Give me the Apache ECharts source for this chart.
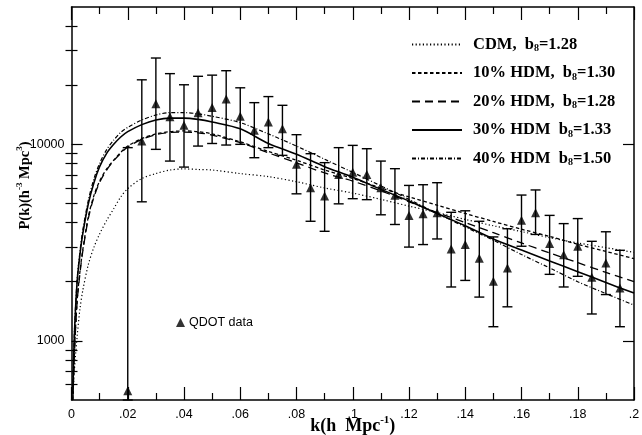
<!DOCTYPE html>
<html>
<head>
<meta charset="utf-8">
<script src="https://cdn.jsdelivr.net/npm/echarts@6.0.0/dist/echarts.min.js"></script>
<style>html,body{margin:0;padding:0;background:#fff;}#c{width:642px;height:435px;}</style>
</head>
<body>
<div id="c"></div>
<script>
// ---- data ----
const kGrid = [0.0005,0.001,0.002,0.003,0.004,0.006,0.008,0.01,0.0125,0.015,0.0175,0.02,0.025,0.03,0.035,0.04,0.045,0.05,0.06,0.07,0.08,0.09,0.1,0.11,0.12,0.13,0.14,0.15,0.16,0.17,0.18,0.19,0.2];
const cdm   = [520,700,1050,1450,1800,2450,3000,3500,4100,4700,5400,5950,6700,7100,7400,7500,7450,7400,7100,6850,6450,6000,5650,5250,4850,4500,4150,3850,3600,3350,3150,2980,2820];
const hdm10 = [500,850,1600,2250,2900,4300,5500,6500,7500,8300,9100,9800,10700,11300,11600,11700,11600,11300,10300,9200,8300,7400,6700,6000,5400,4900,4450,4050,3700,3400,3100,2850,2620];
const hdm20 = [500,830,1580,2200,2850,4200,5400,6400,7400,8250,9000,9700,10600,11200,11500,11550,11450,11150,10200,9050,8050,7150,6500,5800,5100,4500,4000,3550,3150,2800,2500,2230,2000];
const hdm30 = [540,1050,2000,2750,3500,5000,6400,7700,9000,10000,10900,11600,12600,13300,13600,13600,13400,13000,12000,10100,8900,7700,6800,5900,5150,4450,3850,3300,2900,2550,2250,1980,1750];
const hdm40 = [550,1080,2050,2850,3650,5200,6700,8000,9400,10500,11500,12200,13300,14100,14500,14500,14300,13900,12900,11300,9800,8400,7200,6150,5250,4450,3800,3250,2750,2350,2000,1740,1520];

const qdotK  = [0.02,0.025,0.03,0.035,0.04,0.045,0.05,0.055,0.06,0.065,0.07,0.075,0.08,0.085,0.09,0.095,0.1,0.105,0.11,0.115,0.12,0.125,0.13,0.135,0.14,0.145,0.15,0.155,0.16,0.165,0.17,0.175,0.18,0.185,0.19,0.195];
const qdotP  = [557,10400,16100,13800,12500,14500,15400,17000,13900,11800,13000,12000,7910,6010,5460,7030,7220,7030,6010,5500,4350,4440,4490,2930,3090,2630,2010,2350,4110,4490,3130,2740,3030,2110,2490,1860];
const qdotLo = [500,5100,9430,8220,7660,9800,10100,9920,10000,8550,9620,8790,5600,4060,3610,4980,5290,5230,4380,3910,3000,3090,3300,1880,2030,1670,1180,1490,3030,3480,2180,1880,2130,1370,1720,1180];
const qdotHi = [9620,21300,27500,22900,20100,22200,22500,23700,19400,16300,17500,15800,11200,8960,8070,9620,9880,9500,8220,7520,6180,6230,6380,4510,4590,4060,3380,3720,5520,5860,4350,3950,4190,3210,3590,2890];

const seriesNames = ['CDM','10% HDM','20% HDM','30% HDM','40% HDM'];
const legendPre = ['CDM,  b','10% HDM,  b','20% HDM,  b','30% HDM  b','40% HDM  b'];
const legendB8  = ['1.28','1.30','1.28','1.33','1.50'];
const yMajorTicks = [1000,10000];
const yMinorTicks = [600,700,800,900,2000,3000,4000,5000,6000,7000,8000,9000,20000,30000,40000];

// ---- chart ----
const chart = echarts.init(document.getElementById('c'), null, {renderer:'canvas'});
const serifBold = {fontFamily:'Liberation Serif', fontWeight:'bold', color:'#000'};
const pairs = arr => kGrid.map((k,i)=>[k,arr[i]]);
const lineDefs = [
  {data:cdm,   type:[1.2,2.4], width:1.2},
  {data:hdm10, type:[3.5,2.5], width:1.3},
  {data:hdm20, type:[8,5],     width:1.3},
  {data:hdm30, type:'solid',   width:1.6},
  {data:hdm40, type:[4,2,1,2], width:1.2}
];
const lineSeries = lineDefs.map((d,i)=>({
  name: seriesNames[i], type:'line', data: pairs(d.data), showSymbol:false, symbol:'none',
  smooth:0.3, lineStyle:{color:'#000', width:d.width, type:d.type}, itemStyle:{color:'#000'},
  xAxisIndex:0, yAxisIndex:0, z:3, silent:true, animation:false
}));

const xCommon = {type:'value', min:0, max:0.2, interval:0.02, splitLine:{show:false},
  axisLine:{show:true, onZero:false, lineStyle:{color:'#000', width:1.5}},
  axisTick:{show:true, inside:true, length:13, lineStyle:{color:'#000', width:1.2}},
  minorTick:{show:true, splitNumber:2, length:7, lineStyle:{color:'#000', width:1.2}},
  minorSplitLine:{show:false}};
const yCommon = {type:'log', logBase:10, min:500, max:50000, splitLine:{show:false},
  axisLine:{show:true, onZero:false, lineStyle:{color:'#000', width:1.5}}};

const option = {
  animation:false,
  backgroundColor:'#fff',
  grid:{left:71.5, right:8, top:7, bottom:35, containLabel:false, outerBoundsMode:'none'},
  xAxis:[
    Object.assign({}, xCommon, {position:'bottom',
      axisLabel:{show:true, margin:8, color:'#000', fontSize:12.5, fontFamily:'Liberation Sans',
        formatter:v=> v===0 ? '0' : (+v.toFixed(2)).toString().replace(/^0/,'')},
      name:'{a|k(h  Mpc}{s|-1}{a|)}', nameLocation:'middle', nameGap:15, nameMoveOverlap:false,
      nameTextStyle:{rich:{a:Object.assign({fontSize:18, lineHeight:22}, serifBold), s:Object.assign({fontSize:11, lineHeight:22, verticalAlign:'top', padding:[0,0,9,0]}, serifBold)}}}),
    Object.assign({}, xCommon, {position:'top', axisLabel:{show:false}})
  ],
  yAxis:[
    Object.assign({}, yCommon, {position:'left',
      axisTick:{show:true, inside:true, length:11, customValues:yMajorTicks, lineStyle:{color:'#000', width:1.2}},
      axisLabel:{show:true, customValues:yMajorTicks, margin:7, color:'#000', fontSize:12.5, fontFamily:'Liberation Sans', formatter:v=>String(Math.round(v))},
      name:'{a|P(k)(h}{s|-3}{a| Mpc}{s|3}{a|)}', nameLocation:'middle', nameGap:37, nameRotate:90, nameMoveOverlap:false,
      nameTextStyle:{padding:[0,0,0,36], rich:{a:Object.assign({fontSize:14.5, lineHeight:19}, serifBold), s:Object.assign({fontSize:9, lineHeight:19, verticalAlign:'top', padding:[0,0,7,0]}, serifBold)}}}),
    Object.assign({}, yCommon, {position:'left', axisLine:{show:false},
      axisTick:{show:true, inside:true, length:6, customValues:yMinorTicks, lineStyle:{color:'#000', width:1.2}},
      axisLabel:{show:false}}),
    Object.assign({}, yCommon, {position:'right',
      axisTick:{show:true, inside:true, length:11, customValues:yMajorTicks, lineStyle:{color:'#000', width:1.2}},
      axisLabel:{show:false}}),
    Object.assign({}, yCommon, {position:'right', axisLine:{show:false},
      axisTick:{show:true, inside:true, length:6, customValues:yMinorTicks, lineStyle:{color:'#000', width:1.2}},
      axisLabel:{show:false}})
  ],
  legend:[
    {data:seriesNames, orient:'vertical', left:406, top:31, itemWidth:50, itemHeight:14, itemGap:11,
     selectedMode:false, itemStyle:{opacity:0, color:'transparent', borderWidth:0},
     formatter:name=>{const i=seriesNames.indexOf(name); return '{t|'+legendPre[i]+'}{s|8}{t|='+legendB8[i]+'}';},
     textStyle:{padding:[0,0,0,6], rich:{t:Object.assign({fontSize:16.5, lineHeight:18}, serifBold), s:Object.assign({fontSize:10, lineHeight:10, verticalAlign:'bottom'}, serifBold)}}},
    {data:['QDOT data'], left:171, top:311, itemWidth:9, itemHeight:9, itemGap:0, selectedMode:false,
     textStyle:{fontFamily:'Liberation Sans', fontSize:12.5, color:'#000', padding:[0,0,0,-1]}}
  ],
  series: lineSeries.concat([
    {name:'QDOT errors', type:'custom', xAxisIndex:0, yAxisIndex:0, z:4, silent:true,
     data: qdotK.map((k,i)=>[k,qdotLo[i],qdotHi[i]]),
     encode:{x:0, y:[1,2]},
     renderItem:(params, api)=>{
       const k=api.value(0), lo=api.value(1), hi=api.value(2);
       const a=api.coord([k,hi]), b=api.coord([k,lo]);
       const w=5, st={stroke:'#000', lineWidth:1.4};
       return {type:'group', children:[
         {type:'line', shape:{x1:a[0],y1:a[1],x2:b[0],y2:b[1]}, style:st},
         {type:'line', shape:{x1:a[0]-w,y1:a[1],x2:a[0]+w,y2:a[1]}, style:st},
         {type:'line', shape:{x1:b[0]-w,y1:b[1],x2:b[0]+w,y2:b[1]}, style:st}
       ]};
     }},
    {name:'QDOT data', type:'scatter', xAxisIndex:0, yAxisIndex:0, z:5, silent:true,
     symbol:'triangle', symbolSize:9, itemStyle:{color:'#000'},
     data: qdotK.map((k,i)=>[k,qdotP[i]])}
  ])
};
chart.setOption(option);
</script>
</body>
</html>
